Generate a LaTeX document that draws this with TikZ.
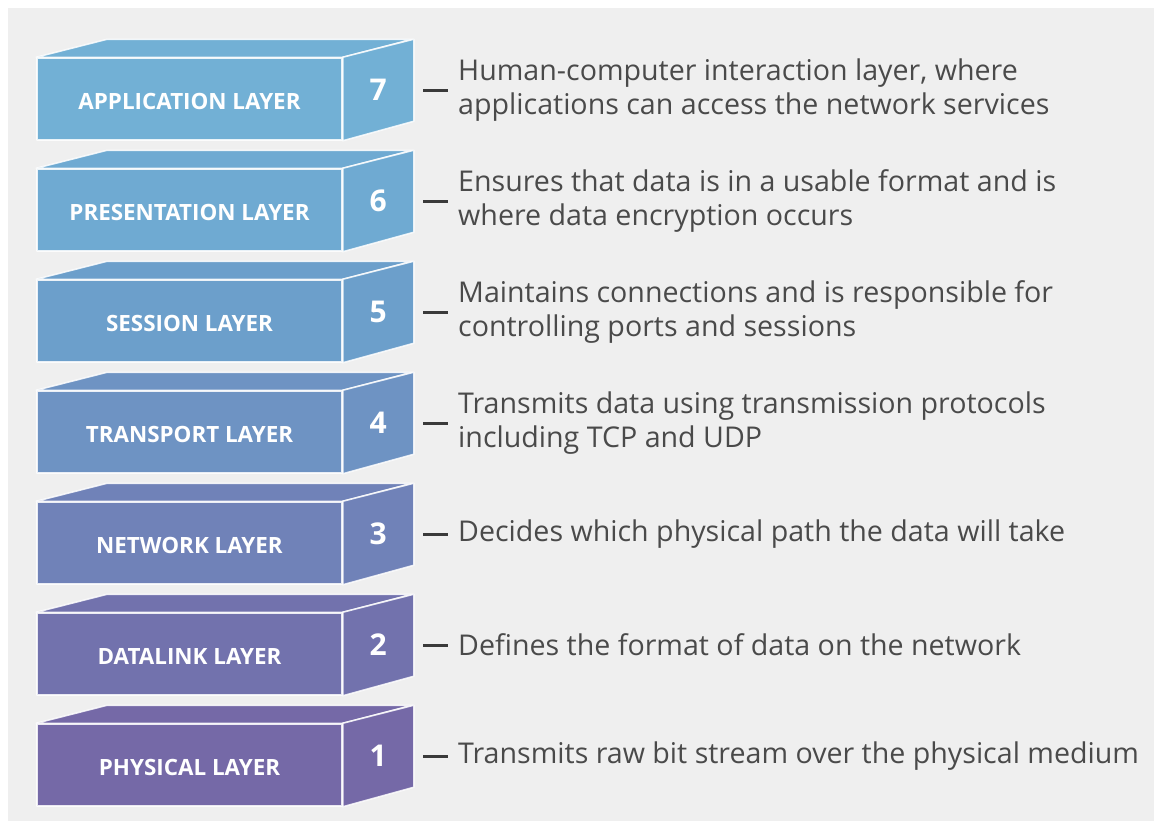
\documentclass[tikz,border=0pt]{standalone}
\usepackage{fontspec}
\setmainfont{Open Sans}
\usetikzlibrary{calc}

\definecolor{bggray}{HTML}{EFEFEF}
\definecolor{desctext}{HTML}{4A4A4A}
\definecolor{dashgray}{HTML}{3A3A3A}
\definecolor{lay7}{HTML}{72B0D5}
\definecolor{lay6}{HTML}{6FAAD2}
\definecolor{lay5}{HTML}{6C9FCB}
\definecolor{lay4}{HTML}{6E93C3}
\definecolor{lay3}{HTML}{7082B8}
\definecolor{lay2}{HTML}{7272AD}
\definecolor{lay1}{HTML}{7569A7}

\begin{document}
\begin{tikzpicture}[x=1pt,y=-1pt,
edge/.style={draw=white,draw opacity=0.85,line width=1.5pt,line join=round},
frontbox/.style={edge,rectangle,minimum width=305pt,minimum height=82pt,inner sep=0pt,text height=20pt,text depth=0pt,text=white,font=\fontsize{22.4}{27}\selectfont\bfseries},
numlabel/.style={text=white,inner sep=0pt,font=\fontsize{30}{36}\selectfont\bfseries},
desclabel/.style={anchor=west,align=left,inner sep=0pt,text=desctext,font=\fontsize{28.6}{34}\selectfont},
dashline/.style={draw=dashgray,line width=3pt}]

\useasboundingbox (0,0) rectangle (1154,825);
\fill[white] (0,0) rectangle (1154,825);
\fill[bggray] (8,8) rectangle (1154,821);

\foreach \lab/\num/\col/\desc [count=\k from 0] in {
  APPLICATION LAYER/7/lay7/{Human-computer interaction layer, where\\applications can access the network services},
  PRESENTATION LAYER/6/lay6/{Ensures that data is in a usable format and is\\where data encryption occurs},
  SESSION LAYER/5/lay5/{Maintains connections and is responsible for\\controlling ports and sessions},
  TRANSPORT LAYER/4/lay4/{Transmits data using transmission protocols\\including TCP and UDP},
  NETWORK LAYER/3/lay3/{Decides which physical path the data will take},
  DATALINK LAYER/2/lay2/{Defines the format of data on the network},
  PHYSICAL LAYER/1/lay1/{Transmits raw bit stream over the physical medium}}
{
  \node[frontbox,fill=\col] (f\num) at (189.5,99+111*\k) {\lab};
  % top and side faces
  \filldraw[edge,fill=\col] (f\num.north west) -- ++(71,-18) -- ++(305,0) -- (f\num.north east) -- cycle;
  \filldraw[edge,fill=\col] (f\num.north east) -- ++(71,-18) -- ++(0,82) -- (f\num.south east) -- cycle;
  \node[numlabel] (n\num) at ($(f\num.east)+(35.5,-9)$) {\num};
  \node[desclabel] (d\num) at (458,90+111*\k) {\desc};
  \draw[dashline] ($(n\num.center)+(45,0)$) -- ($(d\num.west)+(-10,0)$);
}
\end{tikzpicture}
\end{document}
